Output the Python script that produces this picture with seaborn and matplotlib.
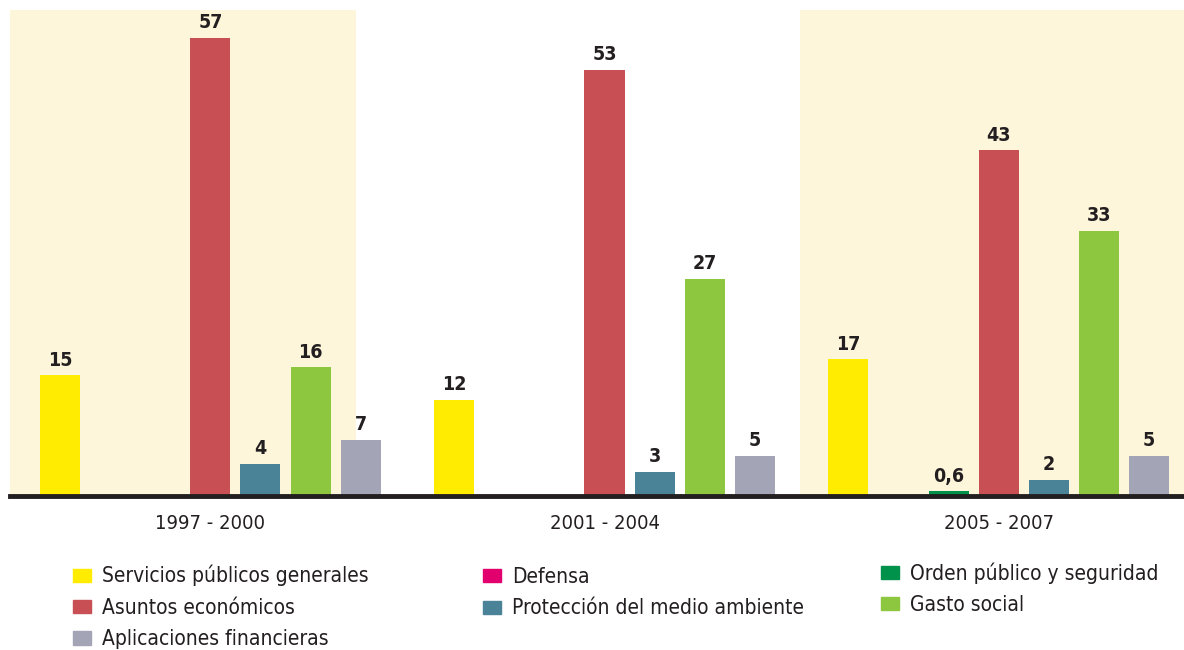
import pandas as pd
import matplotlib.pyplot as plt
import seaborn as sns

periods = ['1997 - 2000', '2001 - 2004', '2005 - 2007']
categories = ['Servicios públicos generales', 'Defensa', 'Orden público y seguridad',
              'Asuntos económicos', 'Protección del medio ambiente', 'Gasto social',
              'Aplicaciones financieras']
servicios = [15, 12, 17]
defensa = [0, 0, 0]
orden = [0, 0, 0.6]
asuntos = [57, 53, 43]
proteccion = [4, 3, 2]
gasto_social = [16, 27, 33]
aplicaciones = [7, 5, 5]
colors = ['#FFEC00', '#E2006F', '#00924A', '#C85055', '#4A8398', '#8DC63F', '#A3A4B5']

series = [servicios, defensa, orden, asuntos, proteccion, gasto_social, aplicaciones]
rows = []
for cat, vals in zip(categories, series):
    for p, v in zip(periods, vals):
        rows.append({'Periodo': p, 'Categoria': cat, 'Valor': v})
df = pd.DataFrame(rows)

sns.set_style("white")
plt.rcParams['font.family'] = ['Liberation Sans Narrow', 'DejaVu Sans']
plt.rcParams['font.stretch'] = 'condensed'
txt = '#231F20'

fig = plt.figure(figsize=(11.84, 6.5), dpi=100)
ax = fig.add_axes([0.0085, 0.237, 0.9915, 0.748])

ax.axvspan(-0.508, 0.37, color='#FEF6DA', zorder=0, lw=0)
ax.axvspan(1.495, 2.6, color='#FEF6DA', zorder=0, lw=0)

sns.barplot(data=df, x='Periodo', y='Valor', hue='Categoria', order=periods,
            hue_order=categories, palette=colors, width=0.89, gap=0.2,
            saturation=1, legend=False, ax=ax, zorder=2, linewidth=0)

for cont, vals in zip(ax.containers, series):
    labels = [('' if v == 0 else f'{v:g}'.replace('.', ',')) for v in vals]
    ax.bar_label(cont, labels=labels, padding=4, fontsize=14, color=txt,
                 fontweight='semibold')

ax.set_xlim(-0.508, 2.47)
ax.set_ylim(0, 60.5)
ax.set_xlabel('')
ax.set_ylabel('')
ax.set_yticks([])
ax.tick_params(axis='x', length=0, pad=13, labelsize=14.5, labelcolor=txt)
for s in ['top', 'left', 'right']:
    ax.spines[s].set_visible(False)
ax.spines['bottom'].set_linewidth(3.5)
ax.spines['bottom'].set_color(txt)
ax.spines['bottom'].set_zorder(3)

# three legend columns placed separately, rows read left to right
leg_cols = [([0, 3, 6], 73, 565), ([1, 4], 483, 567), ([2, 5], 881, 562)]
for idx, xpx, ypx in leg_cols:
    handles = [plt.Rectangle((0, 0), 1, 1, color=colors[i]) for i in idx]
    leg = fig.legend(handles, [categories[i] for i in idx], loc='upper left',
                     bbox_to_anchor=(xpx / 1184, 1 - ypx / 650), frameon=False,
                     fontsize=15, handlelength=0.85, handleheight=0.6,
                     handletextpad=0.55, labelspacing=0.55, borderpad=0,
                     borderaxespad=0, labelcolor=txt)

fig.savefig('out.png', dpi=100)
